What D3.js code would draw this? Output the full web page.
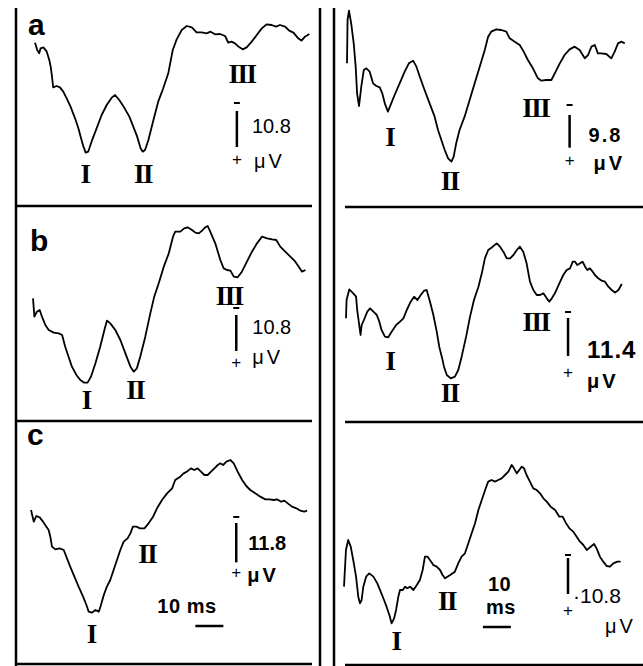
<!DOCTYPE html>
<html>
<head>
<meta charset="utf-8">
<script src="https://cdn.jsdelivr.net/npm/d3@7"></script>
<style>
  body { margin: 0; background: #fff; }
  text { fill: #000; }
</style>
</head>
<body>
<script>
const width = 643
const height = 666
const pxPerMs = 2.8
const pxPerUV = 10 / 3

// traces: [time ms, amplitude µV], negativity plotted up
const traceALeft = [[0,-17.2],[0.8,-15],[1.5,-14],[2,-15.5],[3,-15.8],[4.2,-14.5],[5.1,-12],[5.6,-10],[6,-7.5],[6.5,-3.8],[7.7,-4.2],[8.9,-3.8],[10.1,-2.5],[11.3,-0.5],[12.7,2],[14.3,5.5],[15.5,8.5],[16.3,11],[17.3,14],[18.1,15.8],[19,15.5],[20.2,12.5],[22,8.5],[23.8,4.5],[25.6,1.5],[27.4,-0.7],[28.6,-1.5],[30.1,0],[31.8,2.2],[33.7,5],[35.1,8],[36.5,11],[37.7,14.5],[38.5,15.5],[39.3,15],[40.5,12],[42.3,6],[44,0.5],[45.8,-3.5],[47.6,-8],[49.2,-15],[50.6,-18.2],[52.4,-21],[54.2,-22.2],[56,-21.8],[57.7,-20.3],[59.5,-20.3],[61.3,-20],[62.7,-20.5],[64.3,-19.7],[66.1,-19.8],[67.9,-19.2],[69,-17.2],[70.2,-17.5],[71.4,-17],[73,-15.8],[74.2,-15.2],[75.6,-15.8],[77.4,-17.5],[79.2,-19.5],[81,-21.5],[82.7,-22.7],[84.5,-22.5],[86.1,-22],[87.5,-22.5],[89.3,-22],[90.8,-20.8],[92.3,-20.2],[94,-18.5],[95.2,-17.8],[96.4,-19],[98,-19.8]]

const traceARight = [[0,-11],[0.2,-24],[0.7,-26.8],[1.5,-23],[2.4,-17],[3.1,-10],[3.6,-2],[4.3,1.8],[5.1,-4],[6,-9],[6.9,-9.5],[8.1,-8.5],[9.3,-5],[10.5,-4.2],[11.7,-3.8],[12.6,-2],[13.5,1],[14.6,3.5],[15.8,1],[17,-1.5],[18.8,-5],[20.6,-8.5],[22.1,-11],[23.6,-11.8],[24.8,-10],[26,-7],[27.7,-3],[29.5,1],[31.3,5],[32.5,9],[33.7,12],[34.9,15],[36.1,17.5],[37.3,18.5],[38.1,17],[39,13],[40.2,9],[42,5],[43.8,0],[45.6,-5],[47.4,-10],[49.2,-15],[50.4,-19],[51.5,-20.5],[53.3,-21.2],[55.1,-21],[56.9,-20.5],[58.1,-18.5],[59.9,-17.5],[61.7,-16.5],[63.1,-14.5],[64.6,-12],[66.4,-9.5],[68.2,-6.5],[69.4,-5.8],[71.2,-6],[73,-6],[74.2,-8],[76,-11],[77.7,-13.5],[79.5,-15.2],[81.3,-16],[83.1,-15],[84.9,-12.5],[86.1,-13.5],[87.3,-16],[88.5,-16.5],[89.6,-14],[90.8,-14],[92.6,-13.8],[94.4,-12.5],[95.6,-14.5],[96.8,-17],[98,-17.5],[99.2,-17]]

const traceBLeft = [[0,-0.5],[0.5,5],[1.4,3.5],[2.4,3],[3.2,5],[4.4,7.5],[5.6,9],[7.4,9.8],[9.2,10],[10.4,10.5],[11.5,14],[12.7,17],[13.9,20],[15.5,22.5],[16.9,24],[18.3,24.8],[19.5,24.8],[20.7,23],[22.3,19],[24,14],[25.5,9],[26.4,6.2],[27.6,7],[29.4,9],[31.2,12],[33,16],[34.8,20],[36,21.5],[37.1,20.5],[38.3,17],[40.1,11],[41.9,4],[43.3,-1],[44.9,-5],[46.7,-10],[48.5,-14],[50,-19],[50.8,-20.5],[52.6,-20.5],[54,-21.5],[55.2,-21.8],[56.8,-21],[58,-20.2],[59.2,-20],[60.4,-20.8],[61.5,-21.8],[62.4,-22.2],[63.3,-20.5],[65.1,-17],[66.9,-12],[68.1,-9.5],[69.3,-9],[70.5,-8.8],[71.7,-7],[73.1,-6.8],[74.6,-8.5],[76.4,-11.5],[78.2,-14.5],[80,-17],[81.8,-19],[83.6,-18.5],[85.4,-18.2],[86.9,-18],[88.3,-16],[90.1,-14.5],[91.9,-13],[93.7,-11.5],[94.9,-10],[96.1,-8.5],[97.3,-9]]

const traceBRight = [[0,5.5],[0.2,0],[1.2,-3.2],[2.6,-2],[3.6,-1],[4,3],[4.8,8],[5.2,10.5],[5.6,7.5],[6.4,6],[7.6,3.5],[8.6,2.5],[9.8,3.5],[11,4.5],[11.9,6.5],[12.7,9],[13.9,11],[15.1,11.2],[16.3,9.5],[17.9,7.5],[19.3,6.5],[20.5,5.5],[21.7,3],[23.1,0.5],[24.3,-1],[25.5,0],[26.7,-1.5],[27.9,-2.8],[28.8,-3],[30,0.5],[31.2,4.5],[32.4,9.5],[33.3,14],[34.2,17],[35,20],[36,22.5],[37.4,23.5],[38.9,23],[40.1,21],[41.3,17],[42.9,11],[44.3,5],[45.7,0],[47.3,-4],[48.5,-8],[49.6,-12.5],[50.8,-15],[52.4,-16],[53.8,-17],[55,-16],[56.2,-14.5],[57.4,-12.5],[58.6,-12.5],[59.8,-13.5],[61,-15],[62.1,-16],[63.3,-14.5],[64.5,-11],[65.7,-5.5],[66.9,-3],[68.1,-1.5],[69.3,-1.5],[70.5,-2],[71.7,-0.5],[72.6,0.5],[73.5,-0.5],[74.6,-2],[76.2,-5],[77.6,-7.5],[78.8,-9],[80,-9.5],[81,-11.5],[81.8,-11.5],[82.6,-10.5],[83.6,-11],[84.5,-11.5],[85.4,-10],[86.2,-9],[87.1,-9.5],[88.1,-8.5],[88.9,-7.5],[90.1,-6.5],[91.3,-5.8],[92.5,-5.5],[93.7,-4],[94.9,-3],[96.1,-2.2],[97.3,-3],[98.5,-4.8]]

const traceCLeft = [[0,0],[1,3.5],[1.9,1.8],[3.1,2.2],[4.3,3.5],[5.5,5],[6.3,6],[6.9,8],[7.5,11],[8.7,11.8],[10.2,11.5],[11.7,12],[12.6,14],[14,17],[15.5,20],[17,23],[18.6,26],[19.8,28.5],[20.6,30.5],[21.8,30.8],[23,30],[24.2,30.5],[24.8,29],[26,25.5],[27.1,23],[28.3,21],[29.5,18],[30.7,15],[31.9,12],[33.1,9.5],[34.5,8.5],[35.5,7],[36.4,5],[37.6,5],[39,5.5],[40.5,5.5],[42,4],[43.6,2],[45,-0.5],[46.8,-3],[48.6,-5],[50.4,-6.5],[51.5,-9],[53.3,-10],[54.5,-11],[55.7,-11.5],[57.1,-12.5],[58.3,-12],[59.5,-12.5],[60.7,-11.5],[61.9,-10.5],[63.1,-10.5],[64.3,-11.5],[65.5,-12.5],[66.7,-13.5],[67.6,-14],[68.6,-13.5],[69.8,-14.5],[71.2,-15],[72.4,-14],[73.8,-11.5],[75.4,-9],[76.9,-7.2],[78.3,-6],[80.1,-5],[81.9,-4],[83.7,-3.2],[85.2,-3.2],[86.7,-3],[87.9,-3.2],[89.3,-2.5],[90.5,-2.8],[91.7,-2],[93.2,-1],[94.8,-0.5],[96.2,0.2],[97.6,0.5],[98.6,0.2]]

const traceCRight = [[0,23],[0.7,12],[1.5,9],[2.4,11],[3.3,15],[4.3,20],[5.1,26],[5.7,28],[6.3,27],[6.9,23],[7.9,20],[9,19],[10.5,20],[11.9,22],[13.1,24.5],[14.3,27],[15.2,29],[16.2,31.5],[17,34],[17.9,32.5],[18.6,30],[19.4,26],[20,24],[21,24],[21.8,23],[22.6,23.5],[23.6,23],[24.8,24],[26,22.5],[27.1,21],[28.1,18],[28.9,14],[29.8,14],[30.7,15],[31.9,16.5],[33.1,17],[34.3,18],[35.2,19.5],[36.1,20.5],[37.9,19.5],[39.6,18.5],[40.8,16],[42,14],[43.2,13],[44.4,10],[45.6,7],[46.8,4],[48,0],[49.2,-3],[50.4,-6],[51.5,-8.5],[52.7,-9],[53.9,-8.5],[55.1,-9],[56.3,-9.5],[57.5,-10.5],[58.7,-11.5],[59.9,-13.5],[60.7,-12.5],[61.7,-11],[62.6,-12],[63.5,-13],[64.3,-12.5],[65.2,-10.5],[66.4,-8.5],[67.6,-6.5],[68.8,-6],[70,-5],[71.2,-3.5],[72.4,-2.5],[73.8,-1],[75.4,0],[76.9,2],[78.1,2],[79.3,4],[80.5,5.5],[81.9,6.5],[83.1,8],[84.3,9.5],[85.5,10.5],[86.7,12],[89.3,10.2],[90.2,11.5],[91.4,14],[92.6,15.5],[93.8,16.8],[95,17],[96.2,16],[97.6,15.5],[98.8,15.5]]

const panelLetters = ["a", "b", "c"]
const peakNames = ["I", "II", "III"]
const calibUV = [10.8, 9.8, 10.8, 11.4, 11.8, 10.8]
const calibText = ["10.8", "9.8", "10.8", "11.4", "11.8", "·10.8"]
const timeBarMs = 10

// layout: where each trace starts on the page, and where its labels sit (in ms / µV)
const panels = [
  { trace: traceALeft, x0: 35, y0: 100, peaks: [[17.9, 22.2], [38.6, 22.2], [73.9, -7.8]],
    calib: { t: 72.1, v: 3.3, num: [15, 22], uv: [17, 57], plus: 48, minus: -8, size: 20, ls: 0, weight: "normal" } },
  { trace: traceARight, x0: 347, y0: 100, peaks: [[15.3, 11.1], [36.7, 24.3], [67.4, 2.4]],
    calib: { t: 79.5, v: 4.5, num: [19, 27], uv: [24, 55], plus: 45, minus: -10, size: 20, ls: 2, weight: "bold" } },
  { trace: traceBLeft, x0: 33, y0: 300, peaks: [[19, 30], [36.5, 27], [70.1, -1.2]],
    calib: { t: 72.6, v: 4.5, num: [16, 19], uv: [16, 49], plus: 47, minus: -7, size: 20, ls: 0, weight: "normal" } },
  { trace: traceBRight, x0: 346, y0: 300, peaks: [[15.7, 18.3], [37.1, 27.9], [67.9, 6.6]],
    calib: { t: 79.3, v: 5.4, num: [19, 40], uv: [19, 70], plus: 54, minus: -6, size: 24, ls: 1, weight: "bold" } },
  { trace: traceCLeft, x0: 31, y0: 510, peaks: [[21.5, 37.2], [41.5, 13.2]],
    calib: { t: 73.3, v: 3.9, num: [12, 27], uv: [11, 59], plus: 49, minus: -6, size: 20, ls: 0, weight: "bold" },
    timeBar: { t: 58.7, v: 34.8, label: [["10 ms", -38, -13]] } },
  { trace: traceCRight, x0: 344, y0: 510, peaks: [[18.6, 39.3], [36.8, 27.3]],
    calib: { t: 80, v: 14.4, num: [5, 45], uv: [37, 75], plus: 52, minus: -3, size: 21, ls: 0, weight: "normal" },
    timeBar: { t: 49.6, v: 35.1, label: [["10", 5, -36], ["ms", 3, -13]] } }
]

const svg = d3.select("body").append("svg")
  .attr("width", width).attr("height", height)
  .style("display", "block")

// frame lines
const frame = svg.append("g").attr("stroke", "#000").attr("stroke-width", 2.5)
frame.append("line").attr("x1", 16).attr("x2", 16).attr("y1", 8).attr("y2", 666)
frame.append("line").attr("x1", 320).attr("x2", 320).attr("y1", 8).attr("y2", 666)
frame.append("line").attr("x1", 334).attr("x2", 334).attr("y1", 8).attr("y2", 666)
;[206, 421, 664].forEach(y => {
  frame.append("line").attr("x1", 16).attr("x2", 312).attr("y1", y).attr("y2", y)
  frame.append("line").attr("x1", 345).attr("x2", 643).attr("y1", y + 1).attr("y2", y + 1)
})

// panel letters
const letterPos = [[28, 35], [30, 251], [27, 445]]
panelLetters.forEach((l, i) => {
  svg.append("text").text(l)
    .attr("x", letterPos[i][0]).attr("y", letterPos[i][1])
    .style("font-family", "Liberation Sans, Arial, sans-serif")
    .style("font-weight", "bold").style("font-size", "30px")
})

panels.forEach((p, i) => {
  const x = d3.scaleLinear().domain([0, 100]).range([p.x0, p.x0 + 100 * pxPerMs])
  const y = d3.scaleLinear().domain([0, 30]).range([p.y0, p.y0 + 30 * pxPerUV])
  const g = svg.append("g")

  const line = d3.line().x(d => x(d[0])).y(d => y(d[1]))
  g.append("path").attr("d", line(p.trace))
    .style("fill", "none").style("stroke", "#000")
    .style("stroke-width", 1.8).style("stroke-linejoin", "round")

  // peak labels
  p.peaks.forEach((pk, j) => {
    g.append("text").text(peakNames[j])
      .attr("x", x(pk[0])).attr("y", y(pk[1]))
      .attr("text-anchor", "middle").attr("dy", "0.35em")
      .style("font-family", "Liberation Serif, serif")
      .style("font-weight", "bold").style("font-size", "27px")
      .style("letter-spacing", "-1.5px")
  })

  // amplitude calibration
  const c = p.calib
  const bx = x(c.t), by0 = y(c.v), by1 = y(c.v + calibUV[i])
  g.append("line").attr("x1", bx).attr("x2", bx).attr("y1", by0).attr("y2", by1)
    .style("stroke", "#000").style("stroke-width", 2.5)
  g.append("line").attr("x1", bx - 3).attr("x2", bx + 3).attr("y1", by0 + c.minus).attr("y2", by0 + c.minus)
    .style("stroke", "#000").style("stroke-width", 2)
  g.append("text").text("+").attr("x", bx).attr("y", by0 + c.plus)
    .attr("text-anchor", "middle").attr("dy", "0.35em")
    .style("font-family", "Liberation Sans, Arial, sans-serif").style("font-size", "17px")
  g.append("text").text(calibText[i]).attr("x", bx + c.num[0]).attr("y", by0 + c.num[1])
    .style("font-family", "Liberation Sans, Arial, sans-serif")
    .style("font-size", c.size + "px").style("font-weight", c.weight)
    .style("letter-spacing", c.ls + "px")
  g.append("text").text("μV").attr("x", bx + c.uv[0]).attr("y", by0 + c.uv[1])
    .style("font-family", "Liberation Sans, Arial, sans-serif")
    .style("font-size", "20px").style("font-weight", c.weight)
    .style("letter-spacing", "3px")

  // time calibration
  if (p.timeBar) {
    const tb = p.timeBar
    const tx0 = x(tb.t), tx1 = x(tb.t + timeBarMs), ty = y(tb.v)
    g.append("line").attr("x1", tx0).attr("x2", tx1).attr("y1", ty).attr("y2", ty)
      .style("stroke", "#000").style("stroke-width", 2.5)
    tb.label.forEach(l => {
      g.append("text").text(l[0]).attr("x", tx0 + l[1]).attr("y", ty + l[2])
        .style("font-family", "Liberation Sans, Arial, sans-serif")
        .style("font-size", "20px").style("font-weight", "bold")
        .style("letter-spacing", "0.5px")
    })
  }
})
</script>
</body>
</html>
